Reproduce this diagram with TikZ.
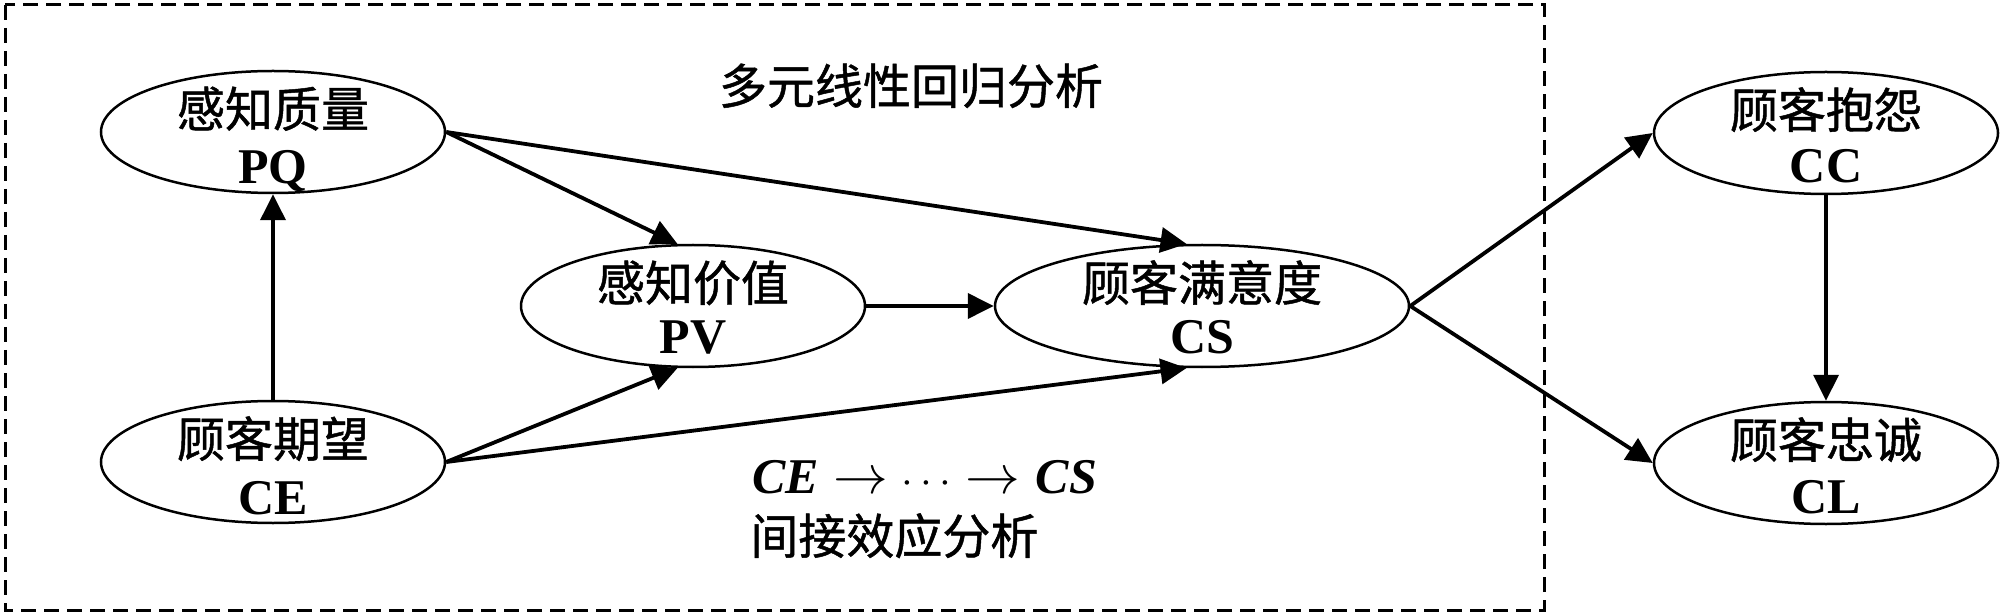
\documentclass[tikz,border=0pt]{standalone}
\usepackage{fontspec}
\setmainfont{Liberation Serif}
\newfontfamily\cjk[FakeBold=1]{Noto Sans CJK SC}
\usetikzlibrary{arrows.meta,shapes.geometric}
\newcommand\Ell[7]{%
  \node[ell,minimum width=#4] (#1) at (#2,#3) {};
  \node[cjkt,anchor=base] (#1a) at (#2,#3-5) {#5};
  \node[latt,anchor=base] (#1b) at (#2,#3+#7) {#6};
}
\newcommand\pathto{\scalebox{1.1}{$\rightarrow$}}
\newcommand\pathdots{\scalebox{0.85}{$\cdots$}}
\begin{document}
\begin{tikzpicture}[x=0.5pt,y=-0.5pt,
  ell/.style={draw, ellipse, line width=1.25pt, inner sep=0pt, minimum height=61pt},
  cjkt/.style={font=\fontsize{24}{28}\selectfont\cjk, inner sep=0pt},
  latt/.style={font=\fontsize{25}{28}\selectfont\bfseries, inner sep=0pt},
  arr/.style={line width=1.9pt, -{Triangle[length=13pt,width=12.5pt]}},
  box/.style={draw, line width=1.5pt, dash pattern=on 7.5pt off 4pt}]
\useasboundingbox (0,0) rectangle (2000,614);
\draw[box] (5,5) rectangle (1544,610);
\Ell{PQ}{273}{132}{172pt}{感知质量}{PQ}{52}
\Ell{CE}{273}{462}{172pt}{顾客期望}{CE}{52}
\Ell{PV}{693}{306}{172pt}{感知价值}{PV}{48}
\Ell{CS}{1202}{306}{207pt}{顾客满意度}{CS}{48}
\Ell{CC}{1826}{133}{172pt}{顾客抱怨}{CC}{50}
\Ell{CL}{1826}{463}{172pt}{顾客忠诚}{CL}{50}
\node[cjkt,anchor=base] (title) at (911,104) {多元线性回归分析};
\node[latt,anchor=base west] (path) at (752,493) {\textit{CE}\hspace{7pt}\pathto\hspace{7pt}\pathdots\hspace{7pt}\pathto\hspace{8pt}\textit{CS}};
\node[cjkt,anchor=base west] (ind) at (750,554) {间接效应分析};
\draw[arr] (CE.north) -- (PQ.south);
\draw[arr] (PQ.east) -- (PV.104);
\draw[arr] (PQ.east) -- (CS.104);
\draw[arr] (CE.east) -- (PV.256);
\draw[arr] (CE.east) -- (CS.256);
\draw[arr] (PV.east) -- (CS.west);
\draw[arr] (CS.east) -- (CC.west);
\draw[arr] (CS.east) -- (CL.west);
\draw[arr] (CC.south) -- (CL.north);
\end{tikzpicture}
\end{document}
